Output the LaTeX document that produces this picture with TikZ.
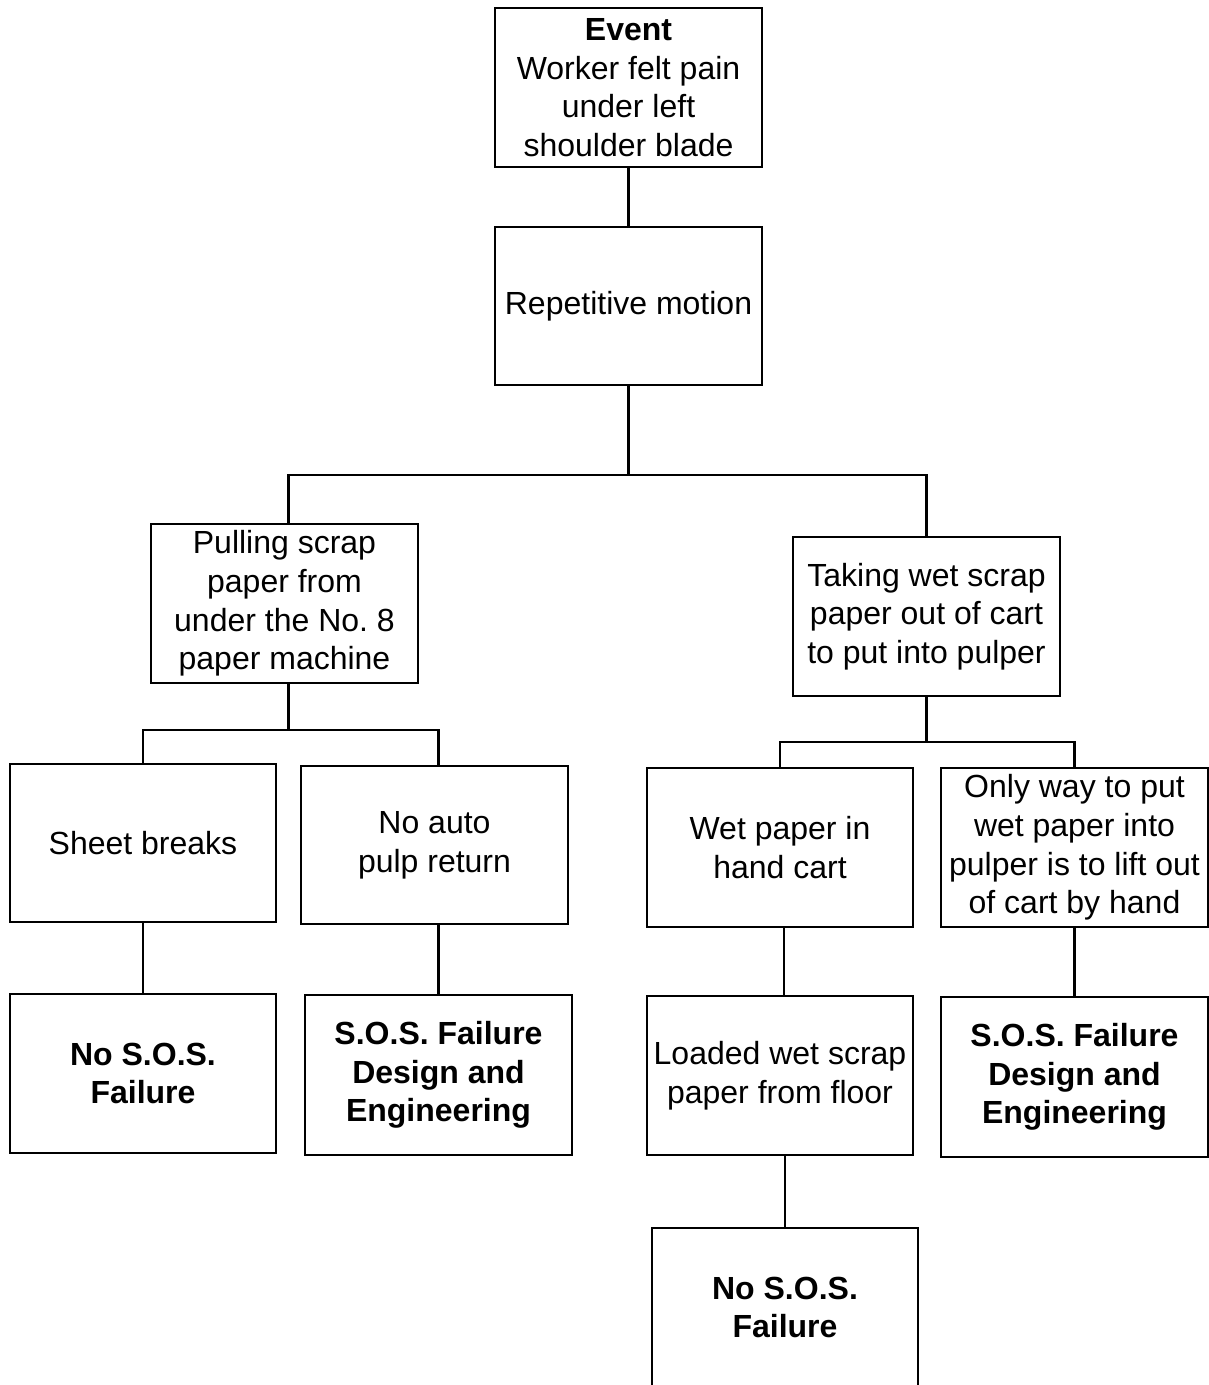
\documentclass[tikz,border=0pt]{standalone}
\usepackage{fontspec}
\setmainfont{Liberation Sans}
\usetikzlibrary{calc}
\begin{document}
\begin{tikzpicture}[x=1pt,y=-1pt,
  box/.style={draw,rectangle,line width=2.5pt,inner sep=0pt,outer sep=0pt,
    minimum width=267pt,minimum height=159pt,align=center,
    font=\fontsize{32}{38.7}\selectfont},
  boldbox/.style={box,font=\fontsize{32}{38.7}\selectfont\bfseries},
  conn/.style={line width=2.5pt}]
\clip (0,0) rectangle (1209,1385);
\fill[white] (0,0) rectangle (1209,1385);
% nodes
\node[box] (ev) at (628.5,87.5) {\textbf{Event}\\Worker felt pain\\under left\\shoulder blade};
\node[box,minimum height=158pt] (rep) at (628.5,306) {Repetitive motion};
\node[box] (pull) at (284.5,603.5) {Pulling scrap\\paper from\\under the No.\ 8\\paper machine};
\node[box] (take) at (926.5,616.5) {Taking wet scrap\\paper out of cart\\to put into pulper};
\node[box,minimum width=266pt,minimum height=158pt] (sheet) at (143,843) {Sheet breaks};
\node[box,minimum height=158pt] (auto) at (434.5,845) {No auto\\pulp return};
\node[box,minimum width=266pt] (wet) at (780,847.5) {Wet paper in\\hand cart};
\node[box] (only) at (1074.5,847.5) {Only way to put\\wet paper into\\pulper is to lift out\\of cart by hand};
\node[boldbox,minimum width=266pt] (nos1) at (143,1073.5) {No S.O.S.\\Failure};
\node[boldbox,minimum height=160pt] (sos1) at (438.5,1075) {S.O.S. Failure\\Design and\\Engineering};
\node[box,minimum width=266pt] (load) at (780,1075.5) {Loaded wet scrap\\paper from floor};
\node[boldbox,minimum height=160pt] (sos2) at (1074.5,1077) {S.O.S. Failure\\Design and\\Engineering};
\node[boldbox,minimum width=266pt] (nos2) at (785,1307.5) {No S.O.S.\\Failure};
% bus coordinates
\coordinate (bus1) at (628.5,475);
\coordinate (bus2) at (288.5,730);
\coordinate (bus3) at (926.5,742);
\coordinate (wl) at (784,900);
% connectors
\draw[conn] (ev.south) -- (rep.north);
\draw[conn] (rep.south) -- (bus1);
\draw[conn] (pull.north -| bus2) |- (bus1) -| (take.north);
\draw[conn] (pull.south -| bus2) -- (bus2);
\draw[conn] (sheet.north) |- (bus2) -| (sos1.north |- auto.north);
\draw[conn] (take.south) -- (bus3);
\draw[conn] (wet.north) |- (bus3) -| (only.north);
\draw[conn] (sheet.south) -- (nos1.north);
\draw[conn] (sos1.north |- auto.south) -- (sos1.north);
\draw[conn] (wl |- wet.south) -- (wl |- load.north);
\draw[conn] (only.south) -- (sos2.north);
\draw[conn] (nos2.north |- load.south) -- (nos2.north);
\end{tikzpicture}
\end{document}
